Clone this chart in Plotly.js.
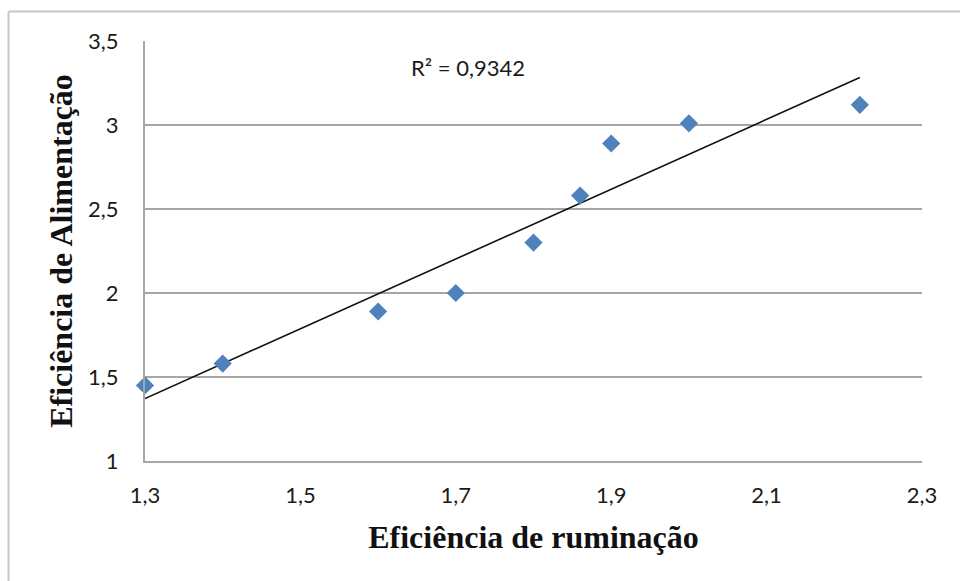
<!DOCTYPE html>
<html>
<head>
<meta charset="utf-8">
<script src="https://cdn.plot.ly/plotly-3.0.1.min.js"></script>
<style>html,body{margin:0;padding:0;background:#fff;}#chart{width:960px;height:581px;}</style>
</head>
<body>
<div id="chart"></div>
<script>
// Data
var ruminacao   = [1.30, 1.40, 1.60, 1.70, 1.80, 1.86, 1.90, 2.00, 2.22];
var alimentacao = [1.45, 1.58, 1.89, 2.00, 2.30, 2.58, 2.89, 3.01, 3.12];
var xTickVals = [1.3, 1.5, 1.7, 1.9, 2.1, 2.3];
var xTickText = ['1,3', '1,5', '1,7', '1,9', '2,1', '2,3'];
var yTickVals = [1, 1.5, 2, 2.5, 3, 3.5];
var yTickText = ['1', '1,5', '2', '2,5', '3', '3,5'];
var r2Label = 'R² = 0,9342';

// Linear trendline (least squares) over the data
var n = ruminacao.length, mx = 0, my = 0;
for (var i = 0; i < n; i++) { mx += ruminacao[i]; my += alimentacao[i]; }
mx /= n; my /= n;
var sxy = 0, sxx = 0;
for (var i = 0; i < n; i++) { sxy += (ruminacao[i]-mx)*(alimentacao[i]-my); sxx += (ruminacao[i]-mx)*(ruminacao[i]-mx); }
var slope = sxy / sxx, icpt = my - slope * mx;
var xmin = Math.min.apply(null, ruminacao), xmax = Math.max.apply(null, ruminacao);
var trendX = [xmin, xmax];
var trendY = trendX.map(function(v){ return icpt + slope * v; });

var tickFont = {family: 'Lato, "Open Sans", sans-serif', size: 22, color: '#1a1a1a'};
var titleFont = {family: '"Liberation Serif", "Times New Roman", serif', size: 32, color: '#111', weight: 'bold'};

var traces = [
  {x: trendX, y: trendY, mode: 'lines', type: 'scatter',
   line: {color: '#111', width: 1.6}, hoverinfo: 'skip', cliponaxis: false},
  {x: ruminacao, y: alimentacao, mode: 'markers', type: 'scatter',
   marker: {symbol: 'diamond', size: 14, color: '#4F81BD'}, cliponaxis: false}
];

var layout = {
  width: 960, height: 581,
  margin: {l: 145, r: 38, t: 41, b: 120},
  paper_bgcolor: '#fff', plot_bgcolor: '#fff',
  showlegend: false,
  xaxis: {
    range: [1.3, 2.3], tickvals: xTickVals, ticktext: xTickText,
    showgrid: false, zeroline: false, showline: true, linecolor: '#a6a6a6', linewidth: 2,
    ticks: '', ticklabelstandoff: 14, tickfont: tickFont,
    title: {text: 'Eficiência de ruminação', font: titleFont, standoff: 18}
  },
  yaxis: {
    range: [1, 3.5], tickvals: yTickVals, ticktext: yTickText,
    showgrid: true, gridcolor: '#a6a6a6', gridwidth: 1.6, zeroline: false,
    showline: true, linecolor: '#a6a6a6', linewidth: 2,
    ticks: '', ticklabelstandoff: 20, tickfont: tickFont,
    title: {text: 'Eficiência de Alimentação', font: titleFont, standoff: 6}
  },
  annotations: [{
    xref: 'paper', yref: 'paper', x: (468-145)/777, y: (461-67)/420,
    text: r2Label, showarrow: false, xanchor: 'center', yanchor: 'middle',
    font: {family: 'Lato, "Open Sans", sans-serif', size: 22, color: '#1a1a1a'}
  }],
  shapes: [
    {type: 'line', xref: 'paper', yref: 'paper', x0: (8.5-145)/777, x1: 1.2, y0: (461-11.5)/420, y1: (461-11.5)/420,
     line: {color: '#c8c8c8', width: 2}},
    {type: 'line', xref: 'paper', yref: 'paper', x0: (8.5-145)/777, x1: (8.5-145)/777, y0: (461-11.5)/420, y1: -0.5,
     line: {color: '#c8c8c8', width: 2}}
  ]
};

Plotly.newPlot('chart', traces, layout, {displayModeBar: false, staticPlot: true});
</script>
</body>
</html>
